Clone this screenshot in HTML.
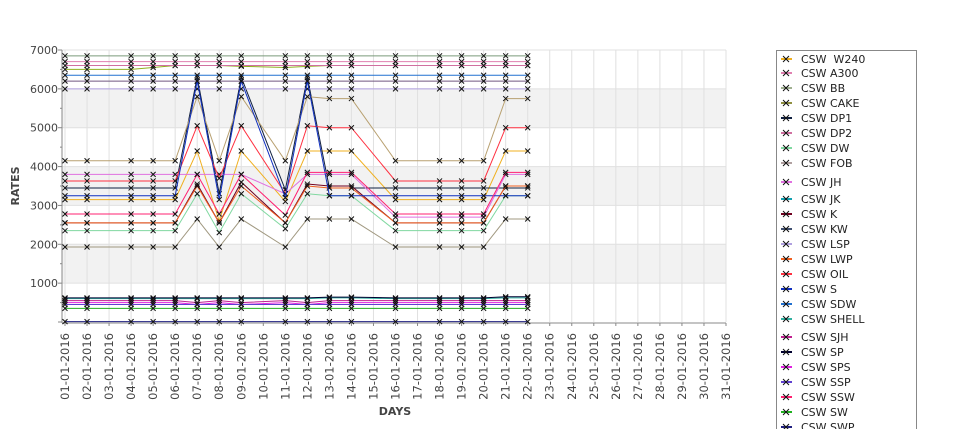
<!DOCTYPE html>
<html><head><meta charset="utf-8"><style>
body{margin:0;background:#fff;width:975px;height:429px;overflow:hidden;font-family:"DejaVu Sans","Liberation Sans",sans-serif}
svg{position:absolute;left:0;top:0}
</style></head><body>
<svg id="chart" width="975" height="429" xmlns="http://www.w3.org/2000/svg"></svg>
<script>
const days=[1,2,4,5,6,7,8,9,11,12,13,14,16,18,19,20,21,22];
const yTicks=[1000,2000,3000,4000,5000,6000,7000];
const sW240=[3150,3150,3150,3150,3150,4400,2600,4400,3100,4400,4400,4400,3150,3150,3150,3150,4400,4400];
const sA300=[6700,6700,6700,6700,6700,6700,6700,6700,6700,6700,6700,6700,6700,6700,6700,6700,6700,6700];
const sBB=[6850,6850,6850,6850,6850,6850,6850,6850,6850,6850,6850,6850,6850,6850,6850,6850,6850,6850];
const sCAKE=[6500,6500,6500,6550,6600,6600,6600,6580,6550,6580,6600,6600,6600,6600,6600,6600,6600,6600];
const sDP1=[3450,3450,3450,3450,3450,6300,3300,6300,3400,6300,3450,3450,3450,3450,3450,3450,3450,3450];
const sDP2=[6600,6600,6600,6600,6600,6600,6600,6600,6600,6600,6600,6600,6600,6600,6600,6600,6600,6600];
const sDW=[2350,2350,2350,2350,2350,3300,2300,3300,2400,3300,3250,3250,2350,2350,2350,2350,3250,3250];
const sFOB=[1930,1930,1930,1930,1930,2650,1930,2650,1930,2650,2650,2650,1930,1930,1930,1930,2650,2650];
const sJH=[3800,3800,3800,3800,3800,3800,3800,3800,3300,3800,3800,3800,2700,2700,2700,2700,3800,3800];
const sJK=[4150,4150,4150,4150,4150,5800,4150,5800,4150,5800,5750,5750,4150,4150,4150,4150,5750,5750];
const sK=[2550,2550,2550,2550,2550,3550,2550,3600,2550,3550,3500,3500,2550,2550,2550,2550,3500,3500];
const sKW=[6200,6200,6200,6200,6200,6200,6200,6200,6200,6200,6200,6200,6200,6200,6200,6200,6200,6200];
const sLSP=[6000,6000,6000,6000,6000,6000,6000,6000,6000,6000,6000,6000,6000,6000,6000,6000,6000,6000];
const sLWP=[2550,2550,2550,2550,2550,3500,2550,3500,2550,3500,3450,3450,2550,2550,2550,2550,3500,3500];
const sOIL=[3630,3630,3630,3630,3630,5050,3700,5050,3300,5050,5000,5000,3630,3630,3630,3630,5000,5000];
const sS=[3250,3250,3250,3250,3250,6200,3150,6200,3200,6200,3250,3250,3250,3250,3250,3250,3250,3250];
const sSDW=[6350,6350,6350,6350,6350,6350,6350,6350,6350,6350,6350,6350,6350,6350,6350,6350,6350,6350];
const sSHELL=[600,600,600,600,600,600,600,600,600,600,620,620,600,600,600,600,620,620];
const sSJH=[550,550,550,550,550,500,550,500,550,500,550,550,550,550,550,550,550,550];
const sSP=[620,620,620,620,620,620,620,620,620,620,640,640,620,620,620,620,650,650];
const sSPS=[500,500,500,500,500,450,500,450,500,450,500,500,500,500,500,500,500,500];
const sSSP=[450,450,450,450,450,450,450,450,450,450,450,450,450,450,450,450,450,450];
const sSSW=[2780,2780,2780,2780,2780,3800,2780,3800,2750,3850,3850,3850,2780,2780,2780,2780,3850,3850];
const sSW=[350,350,350,350,350,350,350,350,350,350,350,350,350,350,350,350,350,350];
const sSWP=[10,10,10,10,10,10,10,10,10,10,10,10,10,10,10,10,10,10];
const seriesNames=["CSW  W240","CSW A300","CSW BB","CSW CAKE","CSW DP1","CSW DP2","CSW DW","CSW FOB","CSW JH","CSW JK","CSW K","CSW KW","CSW LSP","CSW LWP","CSW OIL","CSW S","CSW SDW","CSW SHELL","CSW SJH","CSW SP","CSW SPS","CSW SSP","CSW SSW","CSW SW","CSW SWP"];
const seriesVals=[sW240,sA300,sBB,sCAKE,sDP1,sDP2,sDW,sFOB,sJH,sJK,sK,sKW,sLSP,sLWP,sOIL,sS,sSDW,sSHELL,sSJH,sSP,sSPS,sSSP,sSSW,sSW,sSWP];
const colors=["#f0b020","#e080b0","#7a9a7a","#90b020","#102040","#d070a0","#80d8a0","#a09880","#e070e0","#b8a070","#700020","#705880","#b0a0e0","#f06020","#ff3040","#1030c0","#2070d0","#30b0a0","#c02090","#000030","#e020e0","#6040d0","#ff2070","#20b020","#202080"];
const legendColors=["#f0b020","#e080b0","#a0b090","#909040","#102040","#d070a0","#80d8a0","#b0a0a0","#e070e0","#10a0b0","#700020","#405070","#b0a0e0","#f06020","#ff3040","#1030c0","#2070d0","#30b0a0","#c02090","#000030","#e020e0","#6040d0","#ff2070","#20b020","#202080"];
const svg=document.getElementById('chart');const NS="http://www.w3.org/2000/svg";
const X0=65,X1=726,Y0=322,Y1=50;
function xs(d){return X0+(d-1)*(X1-X0)/30;}
function ys(v){return Y0-v*(Y0-Y1)/7000;}
function mk(t,a,p){const e=document.createElementNS(NS,t);for(const k in a)e.setAttribute(k,a[k]);(p||svg).appendChild(e);return e;}
for(let v=1000;v<7000;v+=2000){const r=mk('rect',{x:X0-3,y:ys(v+1000),width:X1-X0+3,height:ys(v)-ys(v+1000),fill:'#f2f2f2'});

}
for(let d=1;d<=31;d++){const l=mk('line',{x1:xs(d),x2:xs(d),y1:Y1,y2:Y0,stroke:'#e0e0e0','stroke-width':1});

}
yTicks.forEach(v=>{const l=mk('line',{x1:X0-3,x2:X1,y1:ys(v),y2:ys(v),stroke:'#e0e0e0'});

});
const ax=mk('g',{});
mk('line',{x1:X0-3,x2:X0-3,y1:Y1,y2:Y0+1,stroke:'#888'},ax);
mk('line',{x1:X0-3,x2:X1,y1:Y0+1,y2:Y0+1,stroke:'#888'},ax);
for(let v=0;v<=7000;v+=500){mk('line',{x1:X0-(v%1000?5:7),x2:X0-3,y1:ys(v),y2:ys(v),stroke:'#888'},ax);}
yTicks.forEach(v=>{const t=mk('text',{x:X0-7,y:ys(v)+4,'text-anchor':'end','font-size':11,fill:'#444'});t.textContent=v;

});
for(let d=1;d<=31;d++){mk('line',{x1:xs(d),x2:xs(d),y1:Y0+1,y2:Y0+4,stroke:'#888'},ax);
const t=mk('text',{x:0,y:0,'text-anchor':'end','font-size':11.5,fill:'#444',transform:`translate(${xs(d)+4},${Y0+11}) rotate(-90)`});
t.textContent=String(d).padStart(2,'0')+'-01-2016';

}
let t=mk('text',{x:395,y:415,'text-anchor':'middle','font-size':11,'font-weight':'bold',fill:'#444'});t.textContent='DAYS';

t=mk('text',{x:0,y:0,'text-anchor':'middle','font-size':11,'font-weight':'bold',fill:'#444',transform:'translate(19,186) rotate(-90)'});t.textContent='RATES';

seriesVals.forEach((vals,i)=>{
const g=mk('g',{});


mk('polyline',{points:vals.map((v,j)=>xs(days[j])+','+ys(v)).join(' '),fill:'none',stroke:colors[i],'stroke-width':1},g);
vals.forEach((v,j)=>{const x=xs(days[j]),y=ys(v);
const p=mk('path',{d:`M${x-2.5},${y-2.5}L${x+2.5},${y+2.5}M${x-2.5},${y+2.5}L${x+2.5},${y-2.5}`,stroke:'#111','stroke-width':1},g);

});
});
const lg=mk('g',{});
mk('rect',{x:776.5,y:50.5,width:140,height:380,fill:'#fff',stroke:'#888'},lg);
const rowsY=[59,73,88,103,118,133,148,163,182,199,214,229,244,259,274,289,304,319,337,352,367,382,397,412,427];
seriesNames.forEach((n,i)=>{const y=rowsY[i];const e=mk('g',{},lg);


mk('line',{x1:781,x2:792,y1:y,y2:y,stroke:legendColors[i],'stroke-width':2},e);
mk('path',{d:`M${783},${y-3}L${789},${y+3}M${783},${y+3}L${789},${y-3}`,stroke:'#111','stroke-width':1},e);
const tx=mk('text',{x:801,y:y+4,'font-size':11,fill:'#222'},e);tx.textContent=n;tx.style.whiteSpace='pre';});
</script>
</body></html>
